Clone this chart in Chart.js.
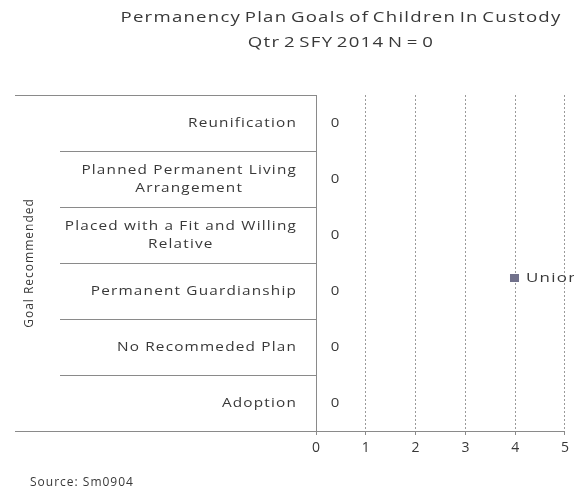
<!DOCTYPE html>
<html>
<head>
<meta charset="utf-8">
<title>Permanency Plan Goals</title>
<script src="https://cdn.jsdelivr.net/npm/chart.js@4.4.1/dist/chart.umd.min.js"></script>
<style>
  html, body { margin: 0; padding: 0; background: #fff; }
  canvas { display: block; }
</style>
</head>
<body>
<canvas id="goals-chart" width="574" height="493"></canvas>
<script>
// ── Data ─────────────────────────────────────────────────────────
const TITLE_LINES  = ['Permanency Plan Goals of Children In Custody', 'Qtr 2 SFY 2014 N = 0'];
const GOALS = [
    ['Reunification'],
    ['Planned Permanent Living', 'Arrangement'],
    ['Placed with a Fit and Willing', 'Relative'],
    ['Permanent Guardianship'],
    ['No Recommeded Plan'],
    ['Adoption']
];
const UNION_COUNTS = [0, 0, 0, 0, 0, 0];
const X_TICKS      = [0, 1, 2, 3, 4, 5];
const SERIES_NAME  = 'Union';
const AXIS_TITLE   = 'Goal Recommended';
const SOURCE_NOTE  = 'Source: Sm0904';

// ── Style ────────────────────────────────────────────────────────
const TEXT   = '#383838';
const LINE   = '#8a8a8a';
const BAR    = '#71718b';
const FONT   = '"Open Sans", sans-serif';

// wide, loosely spaced text like the old office renderer
function wideText(ctx, text, x, y, align, size, stretch, spacing, words = 0) {
    ctx.save();
    ctx.font = `${size}px ${FONT}`;
    ctx.letterSpacing = `${spacing}px`;
    ctx.wordSpacing = `${words}px`;
    ctx.textAlign = align;
    ctx.translate(x, y);
    ctx.scale(stretch, 1);
    ctx.fillText(text, 0, 0);
    ctx.restore();
}

function wideWidth(ctx, text, size, stretch, spacing) {
    ctx.save();
    ctx.font = `${size}px ${FONT}`;
    ctx.letterSpacing = `${spacing}px`;
    const w = ctx.measureText(text).width * stretch;
    ctx.restore();
    return w;
}

// Excel-style category box, labels, data labels, legend and notes
const decorations = {
    id: 'decorations',
    afterDraw(chart) {
        const { ctx, chartArea: area, scales: { y } } = chart;
        ctx.save();

        // outer lines of the category box
        ctx.strokeStyle = LINE;
        ctx.lineWidth = 1;
        ctx.beginPath();
        ctx.moveTo(15, Math.round(area.top) + 0.5);
        ctx.lineTo(area.left, Math.round(area.top) + 0.5);
        ctx.moveTo(15, Math.round(area.bottom) + 0.5);
        ctx.lineTo(area.left, Math.round(area.bottom) + 0.5);
        ctx.stroke();

        ctx.fillStyle = TEXT;
        ctx.textBaseline = 'middle';

        // category labels, lines centred within a right-aligned block
        const rightEdge = area.left - 19;
        const lineH = 18;
        GOALS.forEach((lines, i) => {
            const cy = y.getPixelForValue(i);
            const w = Math.max(...lines.map(l => wideWidth(ctx, l, 13, 1.18, 1)));
            const cx = rightEdge - w / 2;
            lines.forEach((l, j) => {
                wideText(ctx, l, cx, cy + (j - (lines.length - 1) / 2) * lineH, 'center', 13, 1.18, 1);
            });
        });

        // value labels next to each bar
        const meta = chart.getDatasetMeta(0);
        meta.data.forEach((bar, i) => {
            wideText(ctx, String(UNION_COUNTS[i]), bar.x + 19, bar.y, 'center', 13, 1.15, 0);
        });

        // legend, runs off the right edge
        const ds = chart.data.datasets[0];
        const ly = (area.top + area.bottom) / 2 + 15;
        ctx.fillStyle = ds.backgroundColor;
        ctx.fillRect(area.right - 55, ly - 4, 9, 8);
        ctx.fillStyle = TEXT;
        wideText(ctx, ds.label, area.right - 39, ly, 'left', 13, 1.3, 1);

        // rotated axis title
        ctx.save();
        ctx.translate(30, (area.top + area.bottom) / 2);
        ctx.rotate(-Math.PI / 2);
        wideText(ctx, AXIS_TITLE, 0, 0, 'center', 12, 1, 1);
        ctx.restore();

        // chart title
        TITLE_LINES.forEach((t, i) => wideText(ctx, t, 341, 18 + i * 25, 'center', 15, 1.24, 1, -2));

        // source note
        wideText(ctx, SOURCE_NOTE, 30, 483, 'left', 12, 1.0, 1);

        ctx.restore();
    }
};

const ctx = document.getElementById('goals-chart').getContext('2d');

new Chart(ctx, {
    type: 'bar',
    data: {
        labels: GOALS,
        datasets: [{
            label: SERIES_NAME,
            data: UNION_COUNTS,
            backgroundColor: BAR,
            barPercentage: 0.6
        }]
    },
    options: {
        indexAxis: 'y',
        responsive: false,
        animation: false,
        layout: { padding: { top: 95, right: 8, left: 0, bottom: 0 } },
        plugins: {
            legend:  { display: false },
            tooltip: { enabled: false },
            title:   { display: false }
        },
        scales: {
            x: {
                min: 0,
                max: 5,
                afterBuildTicks: s => { s.ticks = X_TICKS.map(v => ({ value: v })); },
                afterFit: s => { s.height = 62; },
                ticks: { color: TEXT, font: { family: FONT, size: 14 }, padding: 5, maxRotation: 0 },
                grid:   { color: '#9a9a9a', tickLength: 4, tickColor: LINE },
                border: { color: LINE, dash: [2, 2] }
            },
            y: {
                afterFit: s => { s.width = 316; },
                ticks:  { display: false },
                grid:   { drawOnChartArea: false, drawTicks: true, tickLength: 256, tickColor: LINE, offset: true },
                border: { color: LINE }
            }
        }
    },
    plugins: [decorations]
});
</script>
</body>
</html>
